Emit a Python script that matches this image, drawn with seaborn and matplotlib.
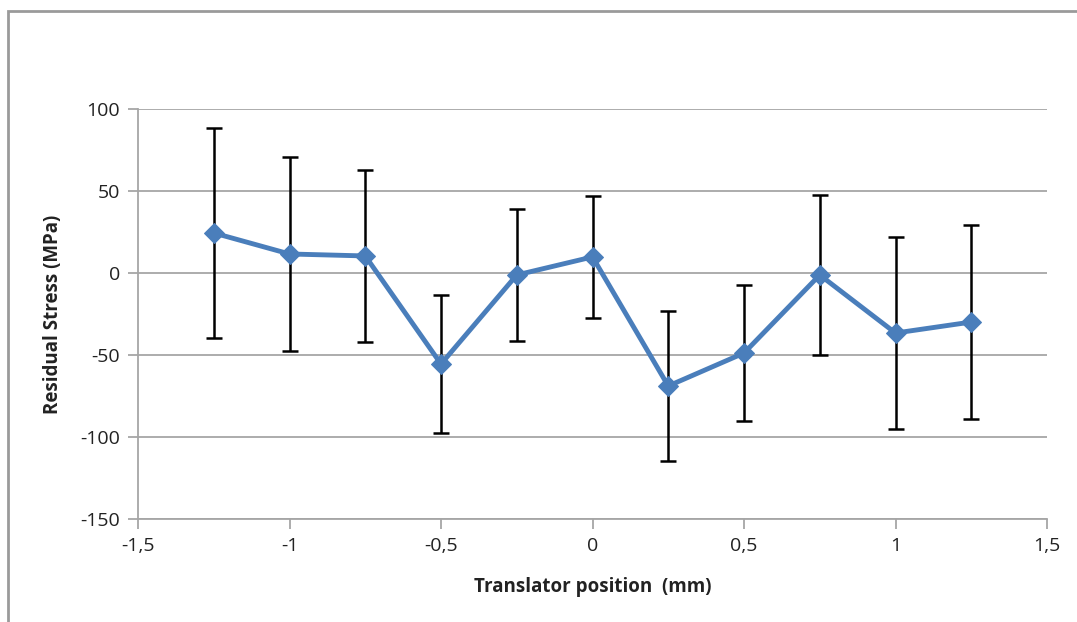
import numpy as np
import pandas as pd
import matplotlib.pyplot as plt
import seaborn as sns
from matplotlib.patches import Rectangle

# values
position = [-1.25, -1.0, -0.75, -0.5, -0.25, 0.0, 0.25, 0.5, 0.75, 1.0, 1.25]
stress = [24.4, 11.6, 10.4, -55.5, -1.2, 9.8, -68.9, -48.8, -1.2, -36.6, -29.9]
stress_err = [64.3, 59.2, 52.3, 42.0, 40.0, 37.0, 45.5, 41.5, 48.8, 58.3, 59.2]

x_ticks = [-1.5, -1, -0.5, 0, 0.5, 1, 1.5]
x_tick_labels = ["-1,5", "-1", "-0,5", "0", "0,5", "1", "1,5"]
y_ticks = [-150, -100, -50, 0, 50, 100]

df = pd.DataFrame({"position": position, "stress": stress, "err": stress_err})

sns.set_theme(style="white")
plt.rcParams["font.family"] = ["Open Sans", "DejaVu Sans"]
plt.rcParams["axes.unicode_minus"] = False

fig = plt.figure(figsize=(10.77, 6.22), dpi=100)
W, H = 1077, 622
ax = fig.add_axes([138 / W, 1 - 519 / H, (1047 - 138) / W, (519 - 109) / H])

# outer chart frame (Excel style)
fig.patches.append(
    Rectangle((8 / W, -0.1), 1.2, 1 - 11 / H + 0.1, transform=fig.transFigure,
              fill=False, edgecolor="#9a9a9a", linewidth=2, zorder=0)
)

ax.errorbar(df["position"], df["stress"], yerr=df["err"], fmt="none",
            ecolor="black", elinewidth=1.8, capsize=6, capthick=1.8, zorder=2)
sns.lineplot(data=df, x="position", y="stress", ax=ax, color="#4a7ebb",
             linewidth=3.5, marker="D", markersize=10.5, markeredgecolor="#4a7ebb",
             zorder=3)

ax.set_xlim(-1.5, 1.5)
ax.set_ylim(-150, 100)
ax.set_xticks(x_ticks, x_tick_labels)
ax.set_yticks(y_ticks)
ax.yaxis.grid(True, color="#a6a6a6", linewidth=1.3)
ax.xaxis.grid(False)

for side in ["top", "right"]:
    ax.spines[side].set_visible(False)
for side in ["left", "bottom"]:
    ax.spines[side].set_color("#a6a6a6")
    ax.spines[side].set_linewidth(1.3)

ax.tick_params(axis="both", which="major", direction="out", length=7, width=1.3,
               color="#a6a6a6", labelsize=14, labelcolor="#222222",
               bottom=True, left=True, pad=6)

ax.set_xlabel("Translator position  (mm)", fontsize=13.5, fontweight="bold",
              color="#222222", labelpad=16)
ax.set_ylabel("Residual Stress (MPa)", fontsize=13.5, fontweight="bold",
              color="#222222", labelpad=12)

fig.savefig("out.png", dpi=100)
